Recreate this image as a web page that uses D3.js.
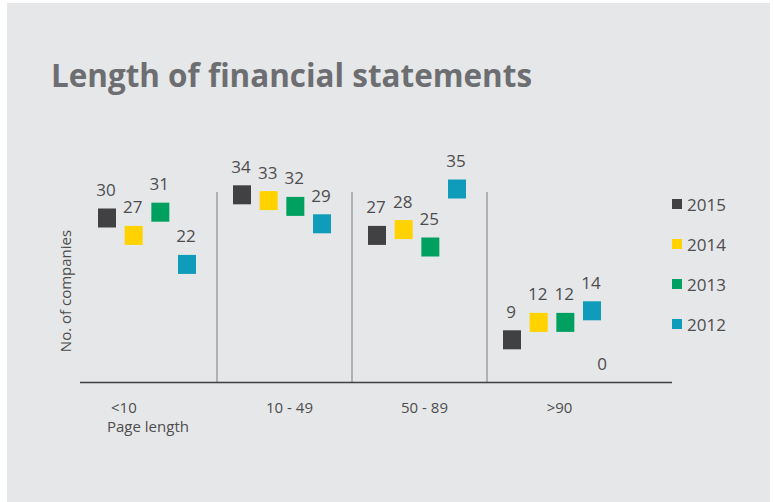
<!DOCTYPE html>
<html>
<head>
<meta charset="utf-8">
<script src="https://cdn.jsdelivr.net/npm/d3@7"></script>
<style>
  body { margin: 0; background: #ffffff; }
  text { font-family: "Open Sans", sans-serif; }
</style>
</head>
<body>
<div id="chart"></div>
<script>
// constants and globals
const width = 774,
  height = 502,
  margin = { top: 189, bottom: 120, left: 80, right: 154 };

// data
const categories = ["<10", "10 - 49", "50 - 89", ">90"];
const years = ["2015", "2014", "2013", "2012"];
const values2015 = [30, 34, 27, 9];
const values2014 = [27, 33, 28, 12];
const values2013 = [31, 32, 25, 12];
const values2012 = [22, 29, 35, 14];
const yearColors = ["#414042", "#ffd200", "#00a160", "#0e9cba"];
const hiddenValues = [0]; // stray label under the >90 group

let svg;

function init() {
  const series = [values2015, values2014, values2013, values2012];

  const xScale = d3.scaleBand()
    .domain(categories)
    .range([81, 621])
    .padding(0);

  const xInner = d3.scalePoint()
    .domain(years)
    .range([26, 106]);

  const yScale = d3.scaleLinear()
    .domain([0, 35])
    .range([392, 189]);

  const colorScale = d3.scaleOrdinal()
    .domain(years)
    .range(yearColors);

  svg = d3.select("#chart")
    .append("svg")
    .attr("width", width)
    .attr("height", height);

  // grey panel
  svg.append("rect")
    .attr("x", 7)
    .attr("y", 3)
    .attr("width", 763)
    .attr("height", 499)
    .attr("fill", "#e6e7e8");

  svg.append("text")
    .attr("x", 51)
    .attr("y", 87)
    .attr("font-size", 33)
    .attr("font-weight", 700)
    .attr("fill", "#6d6e71")
    .attr("textLength", 481)
    .attr("lengthAdjust", "spacingAndGlyphs")
    .text("Length of financial statements");

  // group dividers
  svg.selectAll("line.divider")
    .data(categories.slice(1))
    .join("line")
    .attr("class", "divider")
    .attr("x1", d => xScale(d) + 1)
    .attr("x2", d => xScale(d) + 1)
    .attr("y1", 192)
    .attr("y2", 382)
    .attr("stroke", "#8c8c8e")
    .attr("stroke-width", 1.2);

  // baseline
  svg.append("line")
    .attr("x1", 80)
    .attr("x2", 672)
    .attr("y1", 382.5)
    .attr("y2", 382.5)
    .attr("stroke", "#3f3f40")
    .attr("stroke-width", 1.5);

  // flatten points
  const points = [];
  years.forEach((yr, i) => {
    categories.forEach((cat, j) => {
      points.push({ year: yr, cat: cat, value: series[i][j] });
    });
  });

  const px = d => xScale(d.cat) + xInner(d.year);

  svg.selectAll("rect.mark")
    .data(points)
    .join("rect")
    .attr("class", "mark")
    .attr("x", d => px(d) - 9)
    .attr("y", d => yScale(d.value) - 9.5)
    .attr("width", 18)
    .attr("height", 19)
    .attr("fill", d => colorScale(d.year));

  svg.selectAll("text.value")
    .data(points)
    .join("text")
    .attr("class", "value")
    .attr("x", d => px(d) - 1)
    .attr("y", d => yScale(d.value) - 22)
    .attr("text-anchor", "middle")
    .attr("font-size", 17)
    .attr("fill", "#4d4d4f")
    .text(d => d.value);

  svg.selectAll("text.hidden")
    .data(hiddenValues)
    .join("text")
    .attr("class", "hidden")
    .attr("x", xScale(">90") + xInner("2012") + 10)
    .attr("y", d => yScale(d) - 22)
    .attr("text-anchor", "middle")
    .attr("font-size", 17)
    .attr("fill", "#4d4d4f")
    .text(d => d);

  // x labels
  svg.selectAll("text.xlab")
    .data(categories)
    .join("text")
    .attr("class", "xlab")
    .attr("x", (d, i) => i === 0 ? 111 : xScale(d) + xScale.bandwidth() / 2 + 6)
    .attr("y", 413)
    .attr("text-anchor", (d, i) => i === 0 ? "start" : "middle")
    .attr("font-size", 15)
    .attr("fill", "#4d4d4f")
    .text(d => d);

  svg.append("text")
    .attr("x", 107)
    .attr("y", 432)
    .attr("font-size", 15)
    .attr("fill", "#4d4d4f")
    .text("Page length");

  svg.append("text")
    .attr("transform", "translate(71,291) rotate(-90)")
    .attr("text-anchor", "middle")
    .attr("font-size", 15)
    .attr("fill", "#4d4d4f")
    .text("No. of companies");

  // legend
  const legend = svg.selectAll("g.legend")
    .data(years)
    .join("g")
    .attr("class", "legend")
    .attr("transform", (d, i) => `translate(672, ${199 + i * 40})`);

  legend.append("rect")
    .attr("width", 10)
    .attr("height", 10)
    .attr("fill", d => colorScale(d));

  legend.append("text")
    .attr("x", 15)
    .attr("y", 12)
    .attr("font-size", 17)
    .attr("fill", "#4d4d4f")
    .text(d => d);
}

init();
</script>
</body>
</html>
